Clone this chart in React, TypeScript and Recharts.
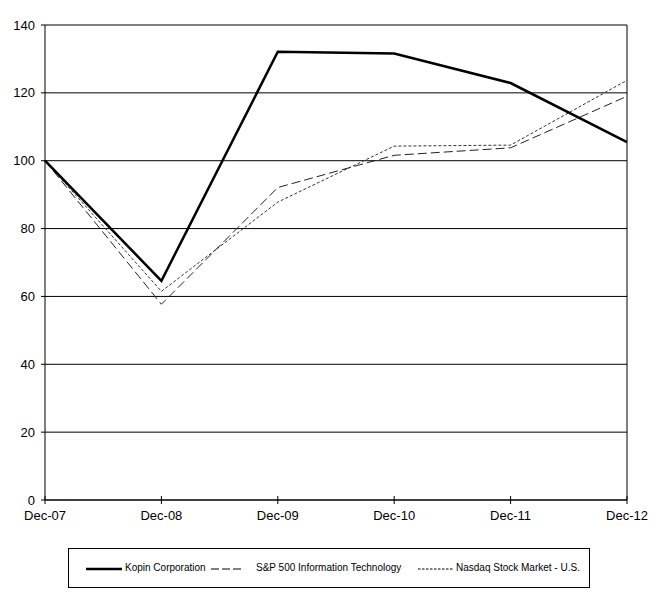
import React from 'react';
import { LineChart, Line, XAxis, YAxis, CartesianGrid, ReferenceLine } from 'recharts';

const categories = ['Dec-07', 'Dec-08', 'Dec-09', 'Dec-10', 'Dec-11', 'Dec-12'];
const kopin = [100, 64.6, 132.1, 131.6, 122.9, 105.5];
const sp500 = [100, 57.7, 92.1, 101.6, 103.8, 119.0];
const nasdaq = [100, 61.5, 87.8, 104.3, 104.6, 123.7];
const yTicks = [0, 20, 40, 60, 80, 100, 120, 140];

const data = categories.map((name, i) => ({
  name,
  kopin: kopin[i],
  sp500: sp500[i],
  nasdaq: nasdaq[i],
}));

const font = 'Arial, "Liberation Sans", sans-serif';

// x ticks cross the axis line, so draw the tick mark ourselves
const XTick = (props: any) => {
  const { x, y, payload } = props;
  return (
    <g>
      <line x1={x} x2={x} y1={y - 15} y2={y - 7} stroke="#000" strokeWidth={1} />
      <text x={x} y={y} dy="0.71em" textAnchor="middle" fill="#000" fontSize={13} fontFamily={font}>
        {payload.value}
      </text>
    </g>
  );
};

const LegendItem = ({ left, width, textLeft, label, stroke, dash }: {
  left: number; width: number; textLeft: number; label: string; stroke: number; dash?: string;
}) => (
  <>
    <svg style={{ position: 'absolute', left, top: 18 }} width={width} height={4}>
      <line x1={0} y1={2} x2={width} y2={2} stroke="#000" strokeWidth={stroke} strokeDasharray={dash} />
    </svg>
    <span style={{ position: 'absolute', left: textLeft, top: 13, fontSize: 10, lineHeight: '12px', whiteSpace: 'nowrap' }}>
      {label}
    </span>
  </>
);

export default function App() {
  return (
    <div style={{ position: 'absolute', left: 0, top: 0, width: 657, height: 599, background: '#fff', fontFamily: font }}>
      <LineChart width={657} height={540} data={data} margin={{ top: 25, right: 30, left: 0, bottom: 10 }}>
        <CartesianGrid vertical={false} stroke="#000" strokeWidth={1} />
        <XAxis
          dataKey="name"
          height={30}
          stroke="#000"
          tickSize={4}
          tickMargin={7}
          tickLine={false}
          tick={<XTick />}
        />
        <YAxis
          width={45}
          domain={[0, 140]}
          ticks={yTicks}
          stroke="#000"
          tickSize={4}
          tickMargin={6}
          tick={{ fill: '#000', fontSize: 13, fontFamily: font }}
        />
        <ReferenceLine x="Dec-12" stroke="#000" strokeWidth={1} />
        <Line dataKey="nasdaq" stroke="#333" strokeWidth={1} strokeDasharray="3 2" dot={false} isAnimationActive={false} />
        <Line dataKey="sp500" stroke="#222" strokeWidth={1} strokeDasharray="9 4" dot={false} isAnimationActive={false} />
        <Line dataKey="kopin" stroke="#000" strokeWidth={2.5} dot={false} isAnimationActive={false} />
      </LineChart>
      <div style={{ position: 'absolute', left: 68, top: 548, width: 522, height: 40, border: '1px solid #000', boxSizing: 'border-box' }}>
        <LegendItem left={17} width={36} textLeft={56} label="Kopin Corporation" stroke={2.5} />
        <LegendItem left={142} width={30} textLeft={187} label="S&P 500 Information Technology" stroke={1} dash="8 3" />
        <LegendItem left={349} width={36} textLeft={387} label="Nasdaq Stock Market - U.S." stroke={1} dash="2.5 1.5" />
      </div>
    </div>
  );
}
